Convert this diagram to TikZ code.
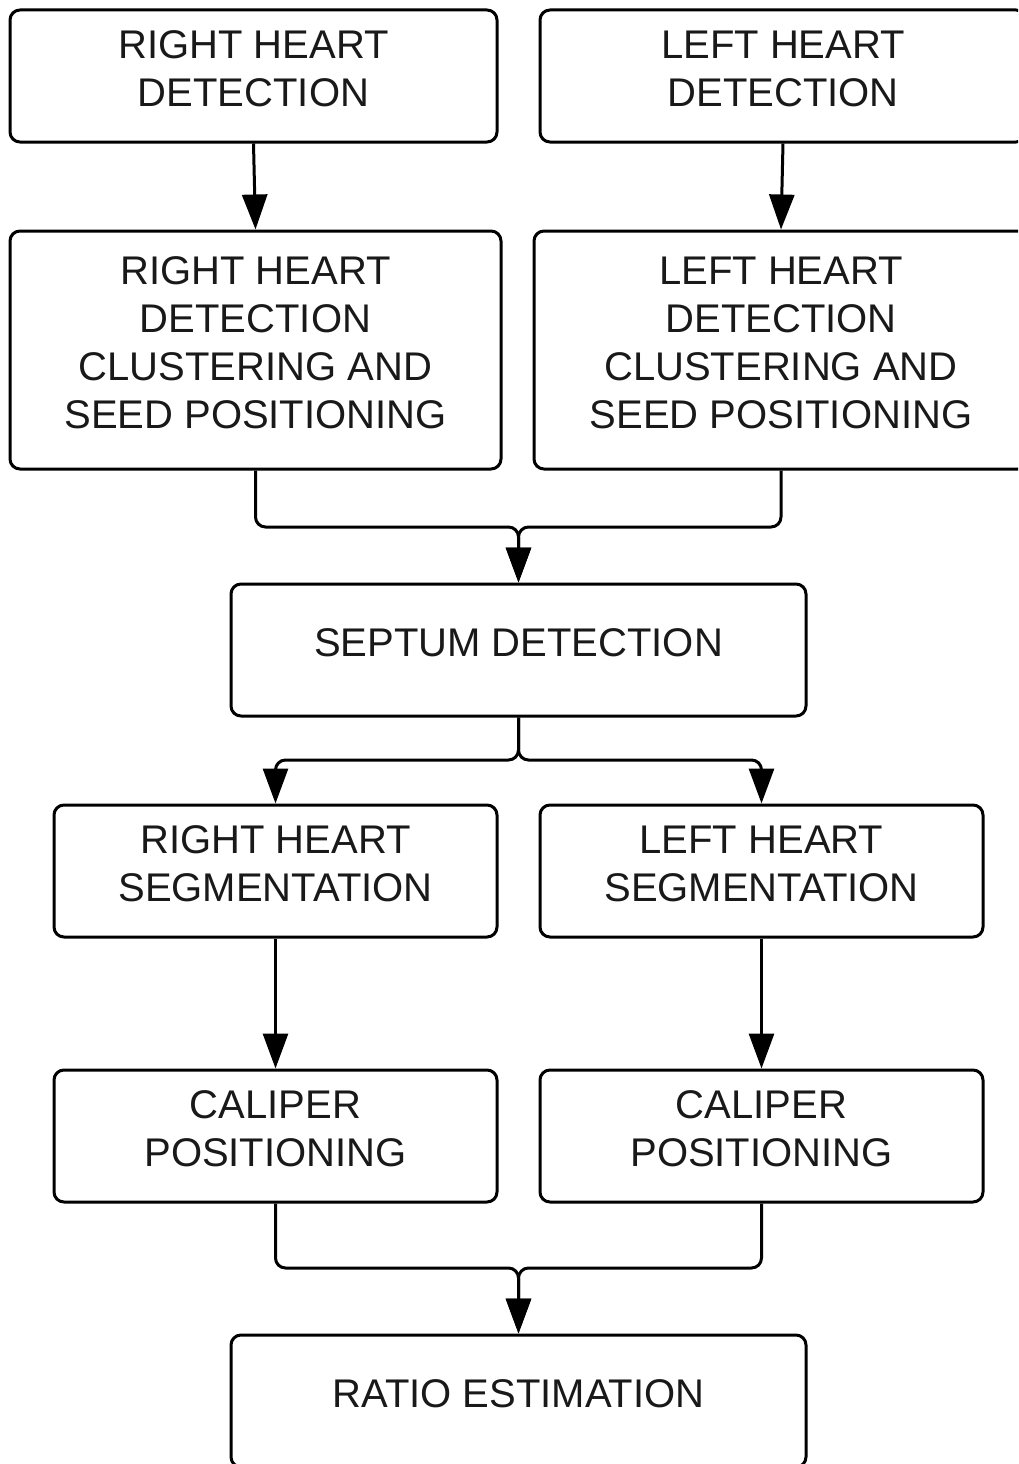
\documentclass[tikz,border=0pt]{standalone}
\usepackage{fontspec}
\setmainfont{Liberation Sans}
\usetikzlibrary{arrows.meta}
\begin{document}
\begin{tikzpicture}[x=1pt,y=-1pt,
  box/.style={draw, line width=3pt, rounded corners=10pt, inner sep=0pt, fill=white},
  txt/.style={align=center, font=\fontsize{40}{48}\selectfont, inner sep=0pt, text=black!90},
  arr/.style={line width=3pt, -{Triangle[length=35pt,width=25pt]}, rounded corners=10pt}]
\useasboundingbox (0,0) rectangle (1018,1464);
\clip (0,0) rectangle (1018,1464);
\fill[white] (0,0) rectangle (1018,1464);
% boxes
\node[box, minimum width=487pt, minimum height=132pt] (rhd) at (253.5,76) {};
\node[box, minimum width=486pt, minimum height=132pt] (lhd) at (783,76) {};
\node[box, minimum width=491pt, minimum height=238pt] (rhc) at (255.5,350) {};
\node[box, minimum width=494pt, minimum height=238pt] (lhc) at (781,350) {};
\node[box, minimum width=575pt, minimum height=132pt] (sep) at (518.5,650) {};
\node[box, minimum width=443pt, minimum height=132pt] (rhs) at (275.5,871) {};
\node[box, minimum width=443pt, minimum height=132pt] (lhs) at (761.5,871) {};
\node[box, minimum width=443pt, minimum height=132pt] (rcp) at (275.5,1136) {};
\node[box, minimum width=443pt, minimum height=132pt] (lcp) at (761.5,1136) {};
\node[box, minimum width=575pt, minimum height=132pt] (rat) at (518.5,1401) {};
% texts
\node[txt] (rhdt) at ([yshift=7pt]rhd.center) {RIGHT HEART\\DETECTION};
\node[txt] (lhdt) at ([yshift=7pt]lhd.center) {LEFT HEART\\DETECTION};
\node[txt] (rhct) at ([yshift=7pt]rhc.center) {RIGHT HEART\\DETECTION\\CLUSTERING AND\\SEED POSITIONING};
\node[txt] (lhct) at ([yshift=7pt]lhc.center) {LEFT HEART\\DETECTION\\CLUSTERING AND\\SEED POSITIONING};
\node[txt] (sept) at ([yshift=7pt]sep.center) {SEPTUM DETECTION};
\node[txt] (rhst) at ([yshift=7pt]rhs.center) {RIGHT HEART\\SEGMENTATION};
\node[txt] (lhst) at ([yshift=7pt]lhs.center) {LEFT HEART\\SEGMENTATION};
\node[txt] (rcpt) at ([yshift=7pt]rcp.center) {CALIPER\\POSITIONING};
\node[txt] (lcpt) at ([yshift=7pt]lcp.center) {CALIPER\\POSITIONING};
\node[txt] (ratt) at ([yshift=7pt]rat.center) {RATIO ESTIMATION};
% junction coordinates
\coordinate (m1) at (518.5,527);
\coordinate (m2) at (518.5,760);
\coordinate (m3) at (518.5,1268);
% connectors
\draw[arr] (rhd.south) -- (rhc.north);
\draw[arr] (lhd.south) -- (lhc.north);
\draw[arr] (rhc.south) |- (m1) -- (sep.north);
\draw[arr] (lhc.south) |- (m1) -- (sep.north);
\draw[arr] (sep.south) -- (m2) -| (rhs.north);
\draw[arr] (sep.south) -- (m2) -| (lhs.north);
\draw[arr] (rhs.south) -- (rcp.north);
\draw[arr] (lhs.south) -- (lcp.north);
\draw[arr] (rcp.south) |- (m3) -- (rat.north);
\draw[arr] (lcp.south) |- (m3) -- (rat.north);
\end{tikzpicture}
\end{document}
